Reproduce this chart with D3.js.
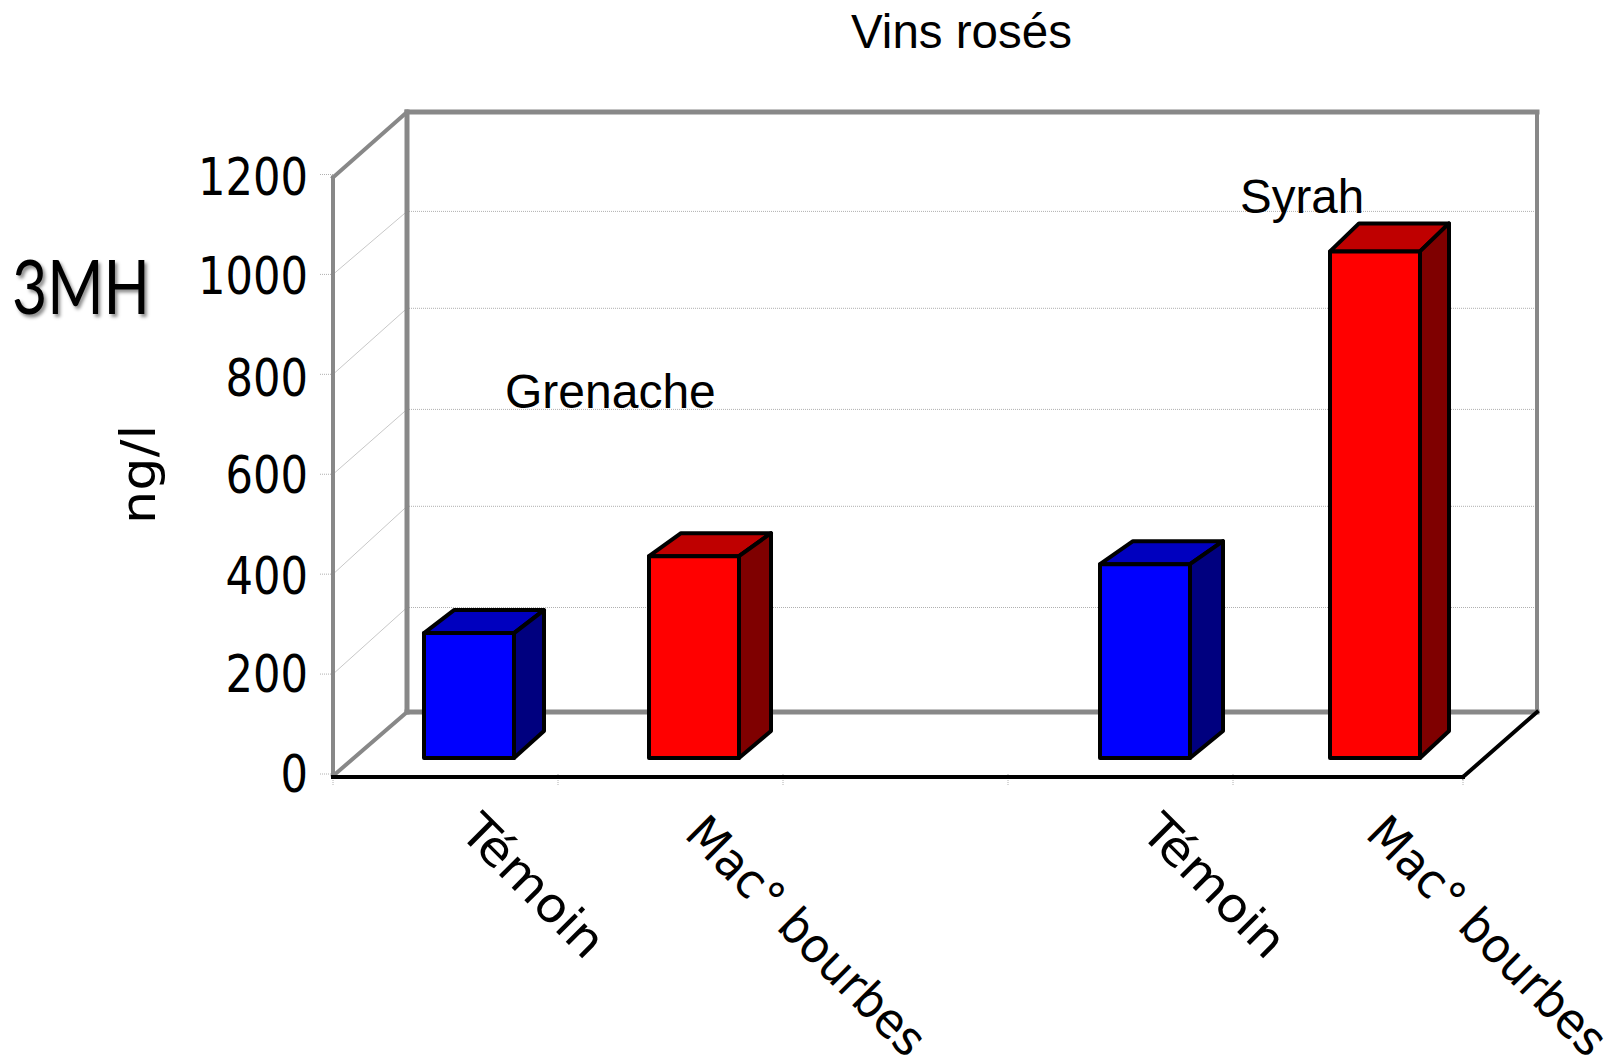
<!DOCTYPE html>
<html>
<head>
<meta charset="utf-8">
<script src="https://cdnjs.cloudflare.com/ajax/libs/d3/7.8.5/d3.min.js"></script>
<style>
  html, body { margin: 0; padding: 0; background: #fff; }
  svg { display: block; }
  text { fill: #000; }
</style>
</head>
<body>
<div id="chart"></div>
<script>
// data
const categories = ["Témoin", "Mac° bourbes", "", "Témoin", "Mac° bourbes"];
const barCategory = [0, 1, 3, 4];
const barValues = [250, 404, 388, 1014];
const barSeries = ["blue", "red", "blue", "red"];
const yTicks = [0, 200, 400, 600, 800, 1000, 1200];

const width = 1617;
const height = 1063;

// 3d offsets
const wallDx = 74, wallDy = -63;
const barW = 90, barBaseLift = 16;
// the depth of the boxes is not quite the same from bar to bar in the original
const barDepthX = [30, 32, 33, 29];
const barDepthTop = [-23, -23, -23, -28];
const barDepthBase = -27;

const colors = {
    blue: { front: "#0000ff", top: "#0000bf", side: "#00007f" },
    red: { front: "#ff0000", top: "#bf0000", side: "#7f0000" }
};
const wallColor = "#888888";
const gridColor = "#b0b0b0";

const svg = d3.select("#chart").append("svg")
    .attr("width", width)
    .attr("height", height);

const y = d3.scaleLinear().domain([0, 1200]).range([774, 174.5]);
// back wall gridlines and tick labels are unevenly rounded in the original
const yBack = d3.scaleLinear().domain(yTicks).range([712, 607.5, 506.3, 409.4, 308.3, 211.4, 112]);
const yLabel = d3.scaleLinear().domain(yTicks).range([792.4, 692.4, 594.4, 493.4, 396.4, 294.3, 195.3]);
const x = d3.scaleLinear().domain([0, 4, 5]).range([333, 1233, 1463]);
// bars and labels sit a little unevenly in their bands
const barX = d3.scaleLinear().domain([0, 1, 3, 4]).range([424, 649, 1100, 1330]);
const labelX = d3.scaleLinear().domain([0, 1, 3, 4]).range([458, 683, 1139, 1364]);
const labelY = d3.scaleOrdinal().domain(["Témoin", "Mac° bourbes"]).range([834, 836]);
const labelLen = d3.scaleOrdinal().domain(["Témoin", "Mac° bourbes"]).range([180, 316]);

const x0 = x(0), x1 = x(5);
const y0 = y(0), yTop = y(1200);
const yFloorBack = yBack(0), yWallBack = yBack(1200);

const line = (g, x1, y1, x2, y2, color, w) => g.append("line")
    .attr("x1", x1).attr("y1", y1).attr("x2", x2).attr("y2", y2)
    .attr("stroke", color).attr("stroke-width", w).attr("stroke-linecap", "square");

// gridlines on back and side wall
const grid = svg.append("g");
yTicks.slice(1, -1).forEach(v => {
    line(grid, x0 + wallDx, yBack(v), x1 + wallDx, yBack(v), gridColor, 1)
        .attr("stroke-dasharray", "1 1").attr("stroke-linecap", "butt");
    line(grid, x0, y(v), x0 + wallDx, yBack(v), "#c8c8c8", 1).attr("stroke-linecap", "butt");
});
yTicks.forEach(v => {
    line(grid, x0 - 13, y(v), x0, y(v), gridColor, 1)
        .attr("stroke-dasharray", "1 1").attr("stroke-linecap", "butt");
});
d3.range(categories.length + 1).forEach(i => {
    line(grid, x(i), y0, x(i), y0 + 12, gridColor, 1)
        .attr("stroke-dasharray", "1 1").attr("stroke-linecap", "butt");
});

// walls
const walls = svg.append("g");
const wallW = 5;
line(walls, x0, y0 + 2, x0, yTop + 3, wallColor, wallW - 1);
line(walls, x0, yTop + 3, x0 + wallDx, yWallBack, wallColor, wallW - 1);
line(walls, x0, y0 + 2, x0 + wallDx, yFloorBack, wallColor, wallW - 1);
line(walls, x0 + wallDx, yFloorBack, x0 + wallDx, yWallBack, wallColor, wallW);
line(walls, x0 + wallDx, yWallBack, x1 + wallDx, yWallBack, wallColor, wallW);
line(walls, x1 + wallDx, yWallBack, x1 + wallDx, yFloorBack, wallColor, wallW - 1);
line(walls, x0 + wallDx, yFloorBack, x1 + wallDx, yFloorBack, wallColor, wallW);
line(walls, x0, y0 + 3, x1, y0 + 3, "#000", 4);
line(walls, x1, y0 + 3, x1 + wallDx, yFloorBack, "#000", 4);

// bars
const bars = svg.append("g").selectAll("g")
    .data(barValues)
    .enter().append("g")
    .attr("stroke", "#000")
    .attr("stroke-width", 4)
    .attr("stroke-linejoin", "round");

const bx = (d, i) => barX(barCategory[i]);
const barBase = y0 - barBaseLift;
const barTop = d => barBase - (y0 - y(d));

bars.append("polygon") // top face
    .attr("fill", (d, i) => colors[barSeries[i]].top)
    .attr("points", (d, i) => [
        [bx(d, i), barTop(d)],
        [bx(d, i) + barW, barTop(d)],
        [bx(d, i) + barW + barDepthX[i], barTop(d) + barDepthTop[i]],
        [bx(d, i) + barDepthX[i], barTop(d) + barDepthTop[i]]
    ].join(" "));

bars.append("polygon") // side face
    .attr("fill", (d, i) => colors[barSeries[i]].side)
    .attr("points", (d, i) => [
        [bx(d, i) + barW, barTop(d)],
        [bx(d, i) + barW + barDepthX[i], barTop(d) + barDepthTop[i]],
        [bx(d, i) + barW + barDepthX[i], barBase + barDepthBase],
        [bx(d, i) + barW, barBase]
    ].join(" "));

bars.append("rect") // front face
    .attr("fill", (d, i) => colors[barSeries[i]].front)
    .attr("x", bx)
    .attr("y", barTop)
    .attr("width", barW)
    .attr("height", d => barBase - barTop(d));

// y axis labels
svg.append("g").selectAll("text")
    .data(yTicks)
    .enter().append("text")
    .text(d => d)
    .attr("x", 308)
    .attr("y", d => yLabel(d))
    .attr("text-anchor", "end")
    .attr("font-family", "DejaVu Sans")
    .attr("font-size", 51)
    .attr("textLength", d => String(d).length * 27.5)
    .attr("lengthAdjust", "spacingAndGlyphs");

// x axis labels, rotated, starting under each band
svg.append("g").selectAll("text")
    .data(categories.map((c, i) => ({ c, i })).filter(d => d.c))
    .enter().append("text")
    .text(d => d.c)
    .attr("transform", d => `translate(${labelX(d.i)},${labelY(d.c)}) rotate(45)`)
    .attr("font-family", "DejaVu Sans")
    .attr("font-size", 48)
    .attr("textLength", d => labelLen(d.c))
    .attr("lengthAdjust", "spacingAndGlyphs");

// titles and annotations
const sans = "Liberation Sans";
svg.append("text").text("Vins rosés")
    .attr("x", 851).attr("y", 48)
    .attr("font-family", sans).attr("font-size", 47.5);
svg.append("text").text("Grenache")
    .attr("x", 505).attr("y", 408)
    .attr("font-family", sans).attr("font-size", 48);
svg.append("text").text("Syrah")
    .attr("x", 1240).attr("y", 213)
    .attr("font-family", sans).attr("font-size", 47.5);

svg.append("text").text("3MH")
    .attr("x", 12).attr("y", 314)
    .attr("font-family", "Lato").attr("font-size", 76)
    .attr("textLength", 138).attr("lengthAdjust", "spacingAndGlyphs")
    .style("text-shadow", "3px 3px 4px rgba(0,0,0,0.45)");

svg.append("text").text("ng/l")
    .attr("transform", "translate(155,524) rotate(-90)")
    .attr("font-family", "DejaVu Sans")
    .attr("font-size", 48)
    .attr("textLength", 99).attr("lengthAdjust", "spacingAndGlyphs");
</script>
</body>
</html>
